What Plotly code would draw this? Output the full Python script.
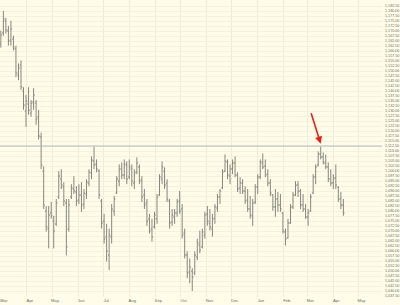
import pandas as pd
import plotly.graph_objects as go

start_date = "2010-03-01"
bar_step = "3D"

high = [1170.2, 1180.0, 1176.6, 1172.6, 1175.1, 1167.7, 1162.7, 1153.8, 1155.3, 1141.9,
        1138.0, 1141.9, 1135.5, 1141.4, 1135.5, 1130.6, 1119.2, 1102.3, 1082.5, 1082.5,
        1084.5, 1077.6, 1086.0, 1099.9, 1100.9, 1094.4, 1086.0, 1086.0, 1093.4, 1097.4,
        1092.4, 1093.4, 1094.4, 1091.0, 1095.9, 1100.9, 1107.3, 1112.2, 1105.8, 1100.9,
        1086.0, 1078.6, 1073.6, 1071.2, 1083.5, 1087.5, 1097.4, 1103.3, 1104.3, 1105.8,
        1104.8, 1105.8, 1103.3, 1100.9, 1106.8, 1103.3, 1097.4, 1091.0, 1086.0, 1078.6,
        1076.1, 1079.6, 1088.5, 1098.4, 1104.8, 1101.8, 1095.9, 1086.0, 1081.0, 1081.0,
        1086.0, 1090.0, 1083.5, 1071.2, 1059.8, 1056.3, 1051.4, 1059.8, 1066.2, 1070.2,
        1071.2, 1079.6, 1082.5, 1081.0, 1078.6, 1083.5, 1088.5, 1091.0, 1100.9, 1108.3,
        1105.8, 1103.3, 1105.8, 1107.3, 1099.4, 1096.9, 1095.9, 1092.4, 1091.0, 1087.5,
        1086.0, 1093.4, 1098.4, 1105.8, 1108.8, 1105.8, 1100.9, 1095.9, 1088.5, 1091.0,
        1089.5, 1088.5, 1079.6, 1071.2, 1076.1, 1083.5, 1089.5, 1094.9, 1094.9, 1091.0,
        1088.5, 1083.5, 1081.0, 1088.5, 1098.4, 1103.3, 1109.8, 1112.2, 1109.3, 1108.3,
        1104.3, 1100.9, 1098.4, 1103.3, 1092.4, 1089.5, 1086.0]

low = [1161.7, 1167.7, 1168.7, 1162.7, 1162.7, 1160.3, 1146.9, 1145.4, 1140.5, 1130.6,
       1122.1, 1128.1, 1127.1, 1130.6, 1123.1, 1115.7, 1100.9, 1081.0, 1069.7, 1061.3,
       1076.1, 1061.3, 1072.6, 1086.0, 1091.0, 1082.5, 1057.8, 1069.7, 1086.0, 1088.5,
       1082.5, 1083.5, 1079.6, 1081.0, 1086.0, 1092.4, 1095.9, 1100.9, 1099.4, 1086.0,
       1071.2, 1063.7, 1054.8, 1050.4, 1063.7, 1077.6, 1088.5, 1092.4, 1095.9, 1095.9,
       1093.4, 1095.9, 1092.4, 1091.0, 1098.4, 1093.4, 1084.5, 1081.0, 1072.6, 1068.7,
       1064.7, 1071.2, 1073.6, 1087.5, 1093.4, 1091.0, 1084.5, 1071.2, 1072.6, 1073.6,
       1077.1, 1078.6, 1066.2, 1056.3, 1046.4, 1043.9, 1040.0, 1047.9, 1055.3, 1058.8,
       1061.3, 1066.2, 1072.6, 1070.2, 1067.2, 1073.6, 1079.6, 1083.5, 1091.0, 1099.4,
       1095.9, 1093.4, 1098.4, 1096.9, 1089.5, 1088.5, 1088.5, 1083.5, 1079.6, 1076.1,
       1072.6, 1083.5, 1088.5, 1095.9, 1100.9, 1096.9, 1092.4, 1087.5, 1080.1, 1077.1,
       1079.6, 1079.6, 1068.7, 1062.7, 1066.2, 1073.6, 1081.0, 1087.5, 1087.0, 1081.0,
       1079.6, 1076.1, 1072.6, 1079.6, 1088.5, 1093.4, 1102.3, 1105.8, 1103.3, 1100.9,
       1094.4, 1092.4, 1091.0, 1091.0, 1084.5, 1081.0, 1077.6]

open_ = [1163.5, 1169.0, 1175.0, 1170.0, 1165.5, 1166.0, 1161.0, 1148.0, 1153.0, 1140.0,
         1130.0, 1133.5, 1129.0, 1134.5, 1134.0, 1127.0, 1117.0, 1100.0, 1080.0, 1071.0,
         1079.0, 1075.0, 1073.5, 1087.0, 1096.0, 1092.0, 1084.0, 1071.0, 1087.0, 1091.0,
         1089.5, 1085.5, 1088.0, 1083.5, 1088.5, 1094.0, 1099.0, 1105.0, 1103.5, 1100.0,
         1085.0, 1075.0, 1067.0, 1058.0, 1067.0, 1080.0, 1089.0, 1095.0, 1101.0, 1098.0,
         1103.0, 1097.0, 1101.0, 1094.0, 1099.5, 1102.0, 1095.5, 1088.0, 1084.0, 1076.0,
         1071.0, 1072.0, 1076.0, 1088.0, 1096.0, 1100.0, 1094.0, 1085.0, 1074.5, 1077.0,
         1079.0, 1085.0, 1081.0, 1069.0, 1058.0, 1049.5, 1050.0, 1049.0, 1057.0, 1063.0,
         1062.0, 1068.0, 1078.5, 1074.0, 1071.0, 1076.5, 1081.5, 1087.0, 1091.5, 1100.0,
         1104.5, 1097.5, 1101.0, 1104.0, 1098.0, 1091.5, 1094.0, 1090.0, 1085.5, 1081.0,
         1077.5, 1084.5, 1092.0, 1097.0, 1104.0, 1102.5, 1098.5, 1094.0, 1088.0, 1082.0,
         1086.0, 1083.0, 1079.0, 1069.5, 1066.5, 1074.0, 1082.0, 1088.0, 1093.0, 1090.0,
         1083.0, 1081.0, 1077.0, 1080.0, 1089.0, 1097.0, 1103.0, 1108.5, 1107.0, 1104.0,
         1102.0, 1096.0, 1094.0, 1096.5, 1092.0, 1086.0, 1083.0]

close = [1168.0, 1176.0, 1170.5, 1165.0, 1171.0, 1161.5, 1149.0, 1151.5, 1142.0, 1133.0,
         1135.0, 1130.5, 1134.0, 1138.0, 1126.0, 1117.5, 1103.0, 1083.0, 1072.0, 1078.0,
         1077.5, 1070.0, 1084.0, 1097.5, 1093.0, 1085.0, 1062.0, 1083.0, 1091.5, 1090.0,
         1085.0, 1088.0, 1083.0, 1089.0, 1094.5, 1099.5, 1105.5, 1103.0, 1101.0, 1088.0,
         1074.0, 1066.0, 1060.0, 1068.0, 1081.0, 1086.0, 1096.0, 1101.0, 1098.0, 1103.5,
         1096.0, 1102.0, 1095.0, 1099.0, 1104.0, 1095.0, 1087.0, 1083.0, 1075.0, 1070.0,
         1067.0, 1078.0, 1087.0, 1097.0, 1102.0, 1093.0, 1086.0, 1074.0, 1078.0, 1079.0,
         1084.5, 1080.0, 1068.0, 1058.0, 1049.0, 1052.0, 1047.0, 1058.0, 1064.0, 1060.5,
         1069.5, 1078.0, 1075.0, 1072.0, 1076.0, 1082.0, 1087.0, 1090.0, 1099.5, 1105.0,
         1098.0, 1101.0, 1104.0, 1098.0, 1091.0, 1094.0, 1090.0, 1085.0, 1081.0, 1078.0,
         1084.0, 1092.0, 1097.0, 1104.5, 1102.0, 1098.0, 1094.0, 1089.0, 1082.0, 1086.0,
         1083.0, 1081.0, 1070.0, 1066.0, 1074.0, 1082.0, 1088.0, 1093.0, 1090.0, 1083.0,
         1081.0, 1077.0, 1079.0, 1087.0, 1097.0, 1102.0, 1108.5, 1107.0, 1104.5, 1102.0,
         1096.0, 1094.0, 1096.5, 1093.0, 1086.0, 1083.0, 1079.0]

dates = pd.date_range(start=start_date, periods=len(high), freq=bar_step)

level_line = 1112.5
arrow_index = 127
arrow_y = 1113.6

fig = go.Figure(go.Ohlc(
    x=dates, open=open_, high=high, low=low, close=close,
    increasing=dict(line=dict(color="#86867e", width=1)),
    decreasing=dict(line=dict(color="#86867e", width=1)),
    tickwidth=0.5, showlegend=False, hoverinfo="skip",
))

fig.add_hline(y=level_line, line=dict(color="#b4b8bf", width=1))

fig.add_annotation(
    x=dates[arrow_index], y=arrow_y, text="", showarrow=True,
    ax=-10, ay=-32, arrowcolor="#e8201c", arrowwidth=1.6,
    arrowhead=2, arrowsize=0.9, standoff=0,
)

# bottom strip (scrollbar-like)
fig.add_shape(type="rect", xref="paper", yref="paper", x0=-0.01, x1=1.06,
              y0=-0.027, y1=-0.036, fillcolor="#c8c8c0", line_width=0, layer="above")
fig.add_shape(type="rect", xref="paper", yref="paper", x0=0.65, x1=0.94,
              y0=-0.027, y1=-0.036, fillcolor="#a9c4e8", line_width=0, layer="above")

fig.update_layout(
    width=400, height=305,
    margin=dict(l=0, r=18, t=0, b=8),
    paper_bgcolor="#fffdea", plot_bgcolor="#fffdea",
    font=dict(family="Arial, Liberation Sans, sans-serif", color="#6b6b60"),
    xaxis=dict(
        type="date", range=["2010-02-28", "2011-05-29"],
        dtick="M1", tick0="2010-03-01", tickformat="%b",
        showgrid=True, gridcolor="#efecd6", gridwidth=1,
        tickfont=dict(size=4.2), ticks="", ticklabelshift=3,
        ticklabeloverflow="allow", rangeslider=dict(visible=False),
        zeroline=False, showline=False,
    ),
    yaxis=dict(
        side="right", range=[1037.0, 1185.5], dtick=2.5, tick0=1037.5,
        tickformat=",.2f", tickfont=dict(size=3.7),
        showgrid=True, gridcolor="#f4f1dc", gridwidth=1,
        ticks="", zeroline=False, showline=False, ticklabelstandoff=2,
    ),
)

fig.write_html("out.html")
